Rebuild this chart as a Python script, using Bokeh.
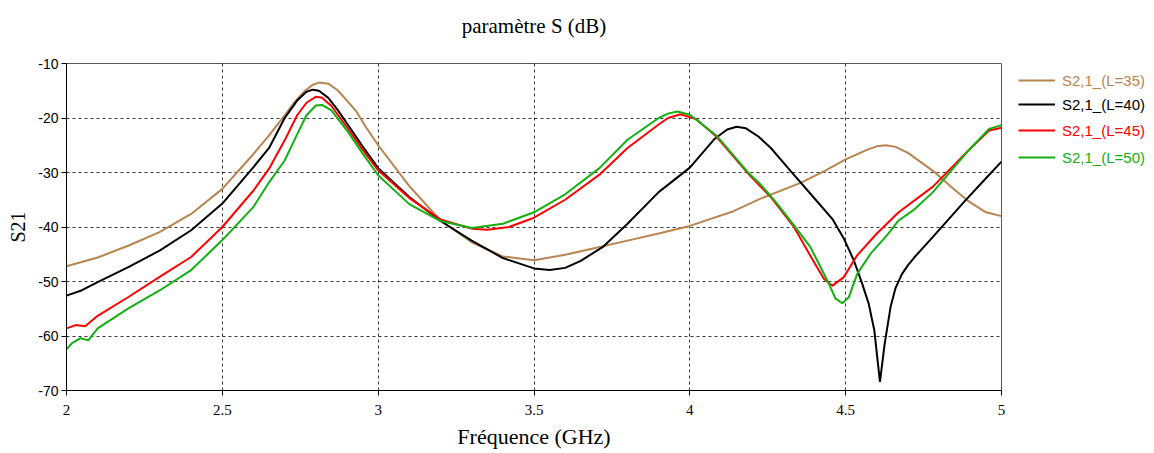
from bokeh.plotting import figure
from bokeh.models import Legend, LegendItem, FixedTicker, Range1d, Title
from bokeh.layouts import row
from bokeh.embed import file_html
from bokeh.resources import INLINE

# ---- data ----
x_ticks = [2, 2.5, 3, 3.5, 4, 4.5, 5]
x_tick_labels = ["2", "2.5", "3", "3.5", "4", "4.5", "5"]
y_ticks = [-70, -60, -50, -40, -30, -20, -10]
y_tick_labels = ["-70", "-60", "-50", "-40", "-30", "-20", "-10"]

title_text = "paramètre S (dB)"
x_label = "Fréquence (GHz)"
y_label = "S21"
series_labels = ["S2,1_(L=35)", "S2,1_(L=40)", "S2,1_(L=45)", "S2,1_(L=50)"]

freq_l35 = [2.0, 2.1, 2.2, 2.3, 2.4, 2.5, 2.6, 2.65, 2.7, 2.73, 2.76, 2.79, 2.81, 2.84,
            2.87, 2.9, 2.93, 2.96, 3.0, 3.1, 3.2, 3.3, 3.4, 3.5, 3.6, 3.7, 3.8, 3.9,
            4.0, 4.14, 4.227, 4.355, 4.43, 4.5, 4.57, 4.6, 4.63, 4.66, 4.7, 4.78, 4.84,
            4.89, 4.95, 5.0]
s21_l35 = [-47.2, -45.6, -43.4, -40.9, -37.6, -33.0, -26.6, -23.2, -19.5, -17.2, -15.3,
           -13.9, -13.5, -13.7, -14.9, -16.8, -18.8, -21.6, -25.0, -32.5, -38.8, -42.8,
           -45.4, -46.1, -45.1, -43.8, -42.5, -41.2, -39.8, -37.1, -34.8, -31.9, -29.8,
           -27.6, -25.8, -25.2, -25.0, -25.3, -26.4, -29.7, -32.7, -35.1, -37.3, -38.0]

freq_l40 = [2.0, 2.05, 2.1, 2.2, 2.3, 2.4, 2.5, 2.6, 2.65, 2.7, 2.74, 2.77, 2.79, 2.81,
            2.84, 2.87, 2.9, 2.95, 3.0, 3.1, 3.2, 3.3, 3.4, 3.5, 3.55, 3.6, 3.65, 3.72,
            3.8, 3.9, 4.0, 4.08, 4.12, 4.15, 4.18, 4.22, 4.26, 4.323, 4.387, 4.457,
            4.494, 4.526, 4.553, 4.574, 4.592, 4.61, 4.625, 4.644, 4.66, 4.68, 4.7,
            4.72, 4.78, 4.83, 4.88, 4.93, 5.0]
s21_l40 = [-52.6, -51.6, -50.1, -47.3, -44.3, -40.6, -35.7, -29.0, -25.5, -20.0, -16.8,
           -15.2, -14.8, -15.0, -16.3, -18.5, -21.0, -25.2, -29.2, -34.5, -38.9, -42.5,
           -45.7, -47.6, -47.9, -47.5, -46.2, -43.7, -39.4, -33.6, -29.1, -23.8, -22.1,
           -21.6, -21.9, -23.4, -25.5, -29.7, -33.9, -38.5, -42.1, -46.1, -50.4, -54.1,
           -59.0, -68.4, -61.5, -54.7, -51.2, -48.7, -47.0, -45.6, -41.8, -38.6, -35.4,
           -32.3, -28.0]

freq_l45 = [2.0, 2.03, 2.06, 2.1, 2.2, 2.3, 2.4, 2.5, 2.6, 2.65, 2.7, 2.74, 2.77, 2.8,
            2.82, 2.85, 2.9, 2.95, 3.0, 3.1, 3.2, 3.3, 3.35, 3.42, 3.5, 3.6, 3.71, 3.8,
            3.9, 3.93, 3.97, 4.02, 4.085, 4.19, 4.227, 4.26, 4.334, 4.387, 4.43, 4.457,
            4.494, 4.537, 4.6, 4.67, 4.78, 4.89, 4.96, 5.0]
s21_l45 = [-58.6, -58.0, -58.2, -56.3, -52.8, -49.1, -45.5, -40.0, -33.3, -29.3, -24.1,
           -19.5, -17.2, -16.1, -16.3, -17.8, -21.7, -25.8, -29.6, -34.7, -38.6, -40.3,
           -40.5, -40.0, -38.3, -35.0, -30.4, -25.5, -21.2, -20.0, -19.3, -20.2, -23.4,
           -30.4, -32.6, -34.5, -40.0, -45.3, -49.5, -50.8, -49.2, -45.2, -41.2, -37.3,
           -32.6, -26.2, -22.3, -21.8]

freq_l50 = [2.0, 2.02, 2.045, 2.07, 2.1, 2.2, 2.3, 2.4, 2.5, 2.6, 2.65, 2.7, 2.74, 2.77,
            2.8, 2.82, 2.85, 2.9, 2.95, 3.0, 3.1, 3.2, 3.3, 3.4, 3.5, 3.6, 3.71, 3.8,
            3.9, 3.93, 3.96, 4.0, 4.085, 4.19, 4.227, 4.28, 4.334, 4.387, 4.419, 4.446,
            4.467, 4.489, 4.51, 4.537, 4.58, 4.633, 4.67, 4.72, 4.78, 4.89, 4.96, 5.0]
s21_l50 = [-62.4, -61.2, -60.4, -60.8, -58.6, -54.9, -51.6, -47.9, -42.4, -36.3, -31.8,
           -27.8, -23.0, -19.5, -17.7, -17.6, -18.6, -22.3, -26.5, -30.5, -35.8, -38.9,
           -40.2, -39.4, -37.3, -34.0, -29.2, -24.0, -20.0, -19.2, -18.8, -19.4, -23.2,
           -30.2, -32.2, -35.7, -39.7, -43.7, -47.3, -50.4, -53.1, -54.0, -52.9, -48.6,
           -44.9, -41.5, -38.8, -36.8, -33.6, -26.2, -22.0, -21.3]

colors = ["#B8844F", "#000000", "#FF0000", "#12B012"]

# ---- main figure ----
p = figure(width=1005, height=453, output_backend="svg", toolbar_location=None,
           x_range=Range1d(2, 5), y_range=Range1d(-70, -10), title=None,
           min_border_left=66, min_border_right=4, min_border_top=63,
           min_border_bottom=63)
p.background_fill_color = "white"
p.border_fill_color = "white"
p.outline_line_color = "#555555"
p.outline_line_width = 1

# a thin spacer panel next to the frame, then the real title above it
p.add_layout(Title(text=" ", text_font_size="1px", standoff=12), "above")
p.add_layout(Title(text=title_text, align="center", text_font="Liberation Serif",
                   text_font_size="21px", text_font_style="normal",
                   text_color="#000000", standoff=22), "above")

p.xaxis.ticker = FixedTicker(ticks=x_ticks)
p.xaxis.major_label_overrides = {t: l for t, l in zip(x_ticks, x_tick_labels)}
p.yaxis.ticker = FixedTicker(ticks=y_ticks)
p.yaxis.major_label_overrides = {t: l for t, l in zip(y_ticks, y_tick_labels)}

for ax in (p.xaxis[0], p.yaxis[0]):
    ax.axis_line_color = "#000000"
    ax.axis_line_width = 1
    ax.major_tick_line_color = "#000000"
    ax.major_tick_out = 5
    ax.major_tick_in = 0
    ax.minor_tick_line_color = None
    ax.major_label_text_color = "#000000"
    ax.axis_label_text_color = "#000000"
    ax.axis_label_text_font = "Liberation Serif"
    ax.axis_label_text_font_style = "normal"

p.xaxis.axis_label = x_label
p.xaxis.axis_label_text_font_size = "22px"
p.xaxis.major_label_text_font = "Liberation Serif"
p.xaxis.major_label_text_font_size = "15px"
p.xaxis.major_label_standoff = 9
p.xaxis.axis_label_standoff = 6

p.yaxis.axis_label = y_label
p.yaxis.axis_label_text_font_size = "20px"
p.yaxis.major_label_text_font = "Liberation Sans"
p.yaxis.major_label_text_font_size = "14px"
p.yaxis.major_label_standoff = 3
p.yaxis.axis_label_standoff = 6

for g in (p.xgrid[0], p.ygrid[0]):
    g.grid_line_color = "#222222"
    g.grid_line_dash = "3 3"
    g.grid_line_width = 1
    g.grid_line_alpha = 0.9

freqs = [freq_l35, freq_l40, freq_l45, freq_l50]
vals = [s21_l35, s21_l40, s21_l45, s21_l50]
for f, v, c in zip(freqs, vals, colors):
    p.line(f, v, line_color=c, line_width=2)

# ---- legend panel (one legend per series so each label takes its colour) ----
# the renderers here carry the series data but lie outside this panel's ranges,
# so only their legend glyphs are seen
lp = figure(width=149, height=453, output_backend="svg", toolbar_location=None,
            x_range=Range1d(100, 101), y_range=Range1d(100, 101),
            x_axis_location=None, y_axis_location=None,
            min_border_left=0, min_border_right=0, min_border_top=0,
            min_border_bottom=0)
lp.outline_line_color = None
lp.xgrid.visible = False
lp.ygrid.visible = False
lp.background_fill_color = "white"
lp.border_fill_color = "white"

legend_y = [300, 276, 250, 223]
for f, v, c, lab, ly in zip(freqs, vals, colors, series_labels, legend_y):
    r = lp.line(f, v, line_color=c, line_width=2)
    leg = Legend(items=[LegendItem(label=lab, renderers=[r])],
                 location=(13, ly), orientation="vertical",
                 label_text_color=c, label_text_font="Liberation Sans",
                 label_text_font_size="15px", glyph_width=37, glyph_height=20,
                 label_height=20, label_standoff=7, padding=0, margin=0,
                 spacing=0, border_line_alpha=0, background_fill_alpha=0)
    lp.add_layout(leg)

layout = row(p, lp, spacing=0)
open("out.html", "w").write(file_html(layout, INLINE))
